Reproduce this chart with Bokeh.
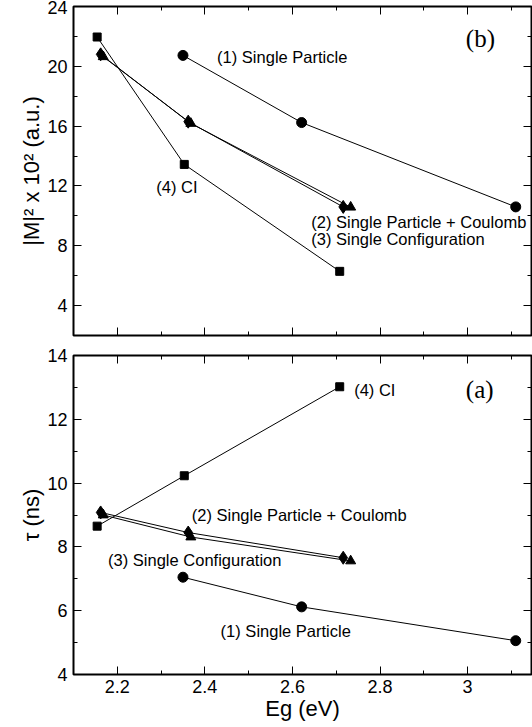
from bokeh.plotting import figure
from bokeh.models import LinearAxis, SingleIntervalTicker, CustomJSTickFormatter, Range1d
from bokeh.layouts import column
from bokeh.embed import file_html
from bokeh.resources import INLINE
from bokeh.core.properties import value

# ---------------- data: panel (b)  |M|^2 x 10^2 ----------------
b_sp_x = [2.350, 2.621, 3.110]
b_sp_y = [20.73, 16.24, 10.60]
b_spc_x = [2.162, 2.362, 2.716]
b_spc_y = [20.80, 16.30, 10.60]
b_sc_x = [2.168, 2.368, 2.733]
b_sc_y = [20.64, 16.18, 10.58]
b_ci_x = [2.154, 2.353, 2.708]
b_ci_y = [21.96, 13.44, 6.29]

# ---------------- data: panel (a)  tau (ns) ----------------
a_sp_x = [2.350, 2.621, 3.110]
a_sp_y = [7.05, 6.12, 5.06]
a_spc_x = [2.162, 2.362, 2.716]
a_spc_y = [9.08, 8.45, 7.66]
a_sc_x = [2.168, 2.368, 2.733]
a_sc_y = [9.00, 8.31, 7.56]
a_ci_x = [2.154, 2.353, 2.708]
a_ci_y = [8.65, 10.23, 13.02]

# ---------------- annotation texts ----------------
label_text = ["(1) Single Particle", "(2) Single Particle + Coulomb",
              "(3) Single Configuration", "(4) CI"]
b_label_x = [2.428, 2.643, 2.643, 2.289]
b_label_y = [20.62, 9.62, 8.45, 11.91]
a_label_x = [2.436, 2.370, 2.179, 2.741]
a_label_y = [5.37, 9.00, 7.58, 12.91]

x_start, x_end = 2.1, 3.146
FONT = "Liberation Sans"


def setup_axes(p, yinterval, ylabel, show_x):
    p.grid.visible = False
    p.outline_line_color = "black"
    p.outline_line_width = 2
    p.add_layout(LinearAxis(), "above")
    p.add_layout(LinearAxis(), "right")
    for ax in p.xaxis:
        ax.ticker = SingleIntervalTicker(interval=0.2, num_minor_ticks=2)
    for ax in p.yaxis:
        ax.ticker = SingleIntervalTicker(interval=yinterval, num_minor_ticks=2)
    for ax in p.axis:
        ax.axis_line_color = None
        ax.major_tick_in = 8
        ax.major_tick_out = 0
        ax.minor_tick_in = 4
        ax.minor_tick_out = 0
        ax.major_tick_line_color = "black"
        ax.minor_tick_line_color = "black"
        ax.major_label_text_font = FONT
        ax.major_label_text_font_size = "1px"
        ax.major_label_text_color = None
        ax.major_label_standoff = 0
    left = p.left[0]
    left.major_label_text_font_size = "18px"
    left.major_label_text_color = "black"
    left.major_label_standoff = 6
    left.axis_label = ylabel
    left.axis_label_text_font = FONT
    left.axis_label_text_font_size = "22px"
    left.axis_label_text_font_style = "normal"
    left.axis_label_text_color = "black"
    left.axis_label_standoff = 0
    if show_x:
        bot = p.below[0]
        bot.major_label_text_font_size = "18px"
        bot.major_label_text_color = "black"
        bot.major_label_standoff = 5
        bot.formatter = CustomJSTickFormatter(code="return (Math.round(tick*10)/10).toString();")
        bot.axis_label = "Eg (eV)"
        bot.axis_label_text_font = FONT
        bot.axis_label_text_font_size = "22px"
        bot.axis_label_text_font_style = "normal"
        bot.axis_label_text_color = "black"
        bot.axis_label_standoff = 0


def draw_series(p, xs, ys, marker, size):
    p.line(xs, ys, line_color="black", line_width=1)
    p.scatter(xs, ys, marker=marker, size=size, fill_color="black", line_color="black")


# ---------------- top panel (b) ----------------
p1 = figure(frame_width=458, frame_height=329,
            x_range=Range1d(x_start, x_end), y_range=Range1d(2, 24),
            output_backend="svg", toolbar_location=None,
            min_border_left=73, min_border_right=1, min_border_top=6, min_border_bottom=10)
setup_axes(p1, 4, "|M|\u00b2 x 10\u00b2 (a.u.)", False)
draw_series(p1, b_sp_x, b_sp_y, "circle", 10)
draw_series(p1, b_spc_x, b_spc_y, "diamond", 13)
draw_series(p1, b_sc_x, b_sc_y, "triangle", 10)
draw_series(p1, b_ci_x, b_ci_y, "square", 8)
p1.text(x=b_label_x, y=b_label_y, text=label_text, text_font=value(FONT),
        text_font_size="16.5px", text_baseline="middle", text_align="left", text_color="black")
p1.text(x=[2.996], y=[21.87], text=["(b)"], text_font=value("Liberation Serif"),
        text_font_size="25px", text_baseline="middle", text_align="left", text_color="black")

# ---------------- bottom panel (a) ----------------
p2 = figure(frame_width=458, frame_height=319,
            x_range=Range1d(x_start, x_end), y_range=Range1d(4, 14),
            output_backend="svg", toolbar_location=None,
            min_border_left=73, min_border_right=1, min_border_top=10, min_border_bottom=0)
setup_axes(p2, 2, "\u03c4 (ns)", True)
draw_series(p2, a_sp_x, a_sp_y, "circle", 10)
draw_series(p2, a_spc_x, a_spc_y, "diamond", 13)
draw_series(p2, a_sc_x, a_sc_y, "triangle", 10)
draw_series(p2, a_ci_x, a_ci_y, "square", 8)
p2.text(x=a_label_x, y=a_label_y, text=label_text, text_font=value(FONT),
        text_font_size="16.5px", text_baseline="middle", text_align="left", text_color="black")
p2.text(x=[2.996], y=[12.94], text=["(a)"], text_font=value("Liberation Serif"),
        text_font_size="25px", text_baseline="middle", text_align="left", text_color="black")

layout = column(p1, p2)

open("out.html", "w").write(file_html(layout, INLINE))
